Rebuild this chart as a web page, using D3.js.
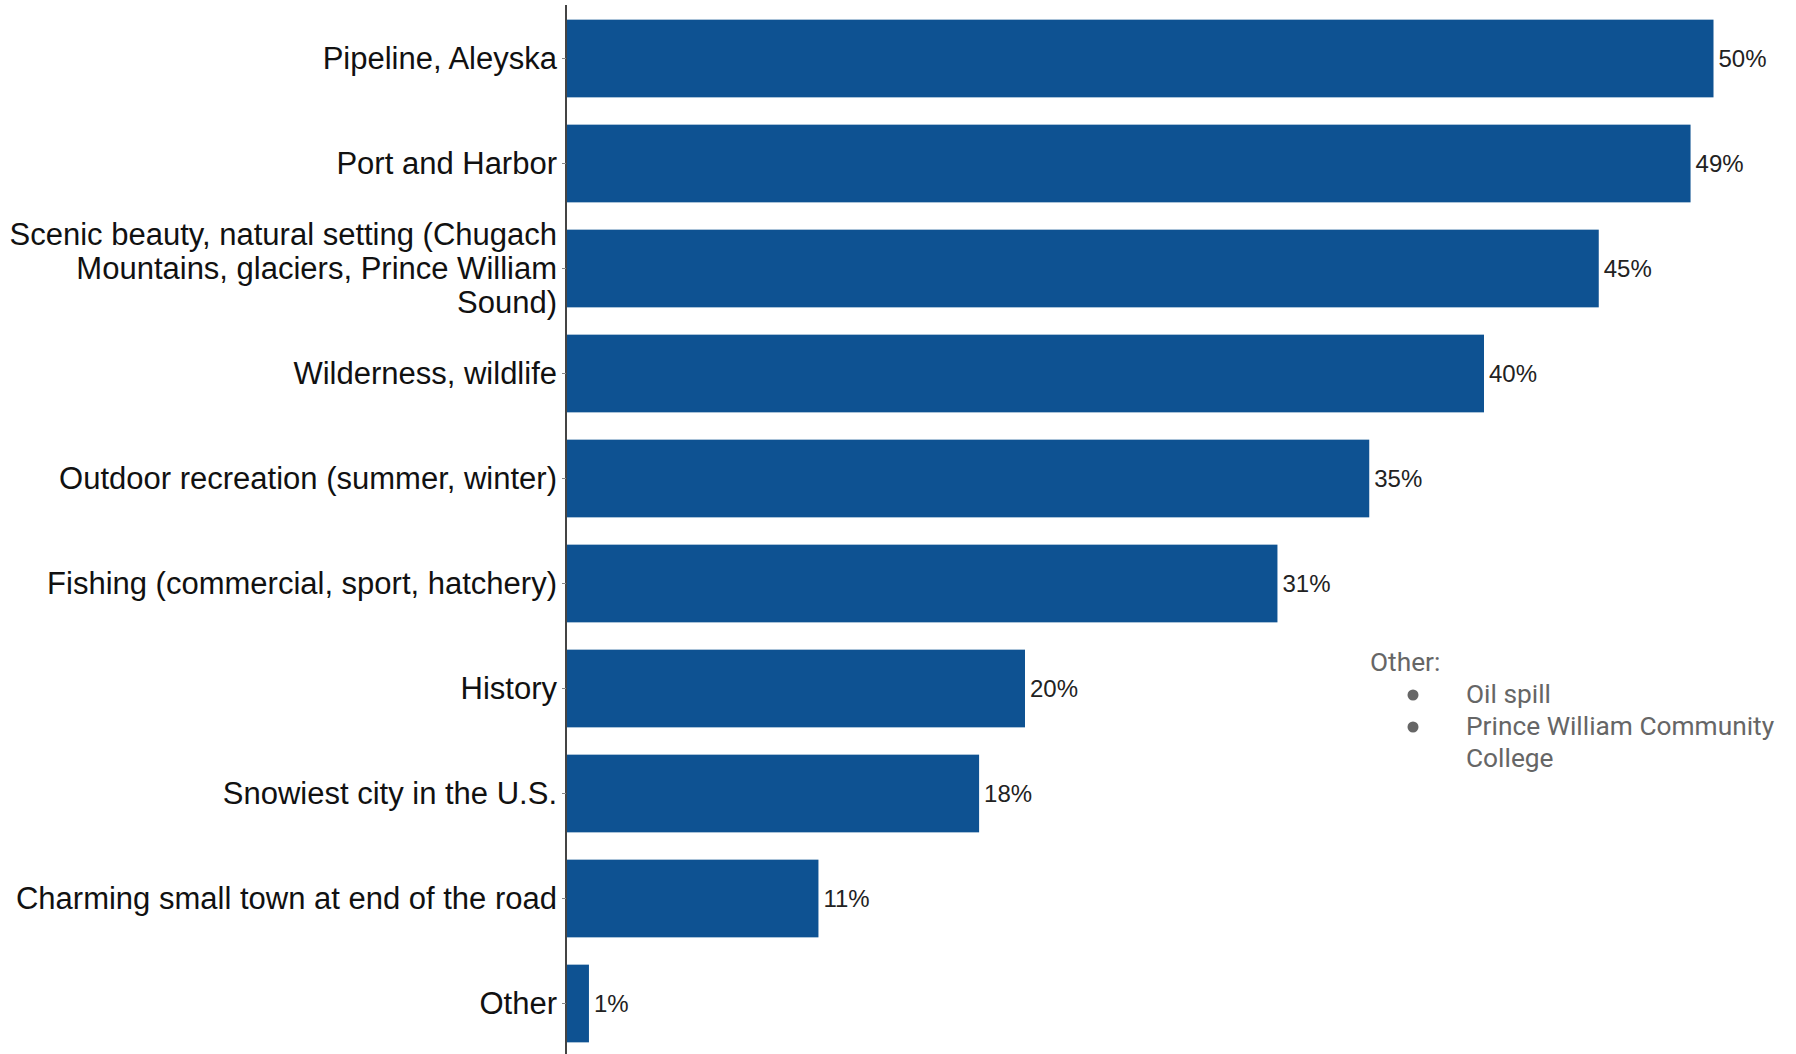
<!DOCTYPE html>
<html>
<head>
<meta charset="utf-8">
<script src="https://cdn.jsdelivr.net/npm/d3@7"></script>
<style>
html,body{margin:0;padding:0;background:#fff;}
svg{display:block;}
</style>
</head>
<body>
<svg id="chart" width="1796" height="1054"></svg>
<script>
const categories = [
  "Pipeline, Aleyska",
  "Port and Harbor",
  "Scenic beauty, natural setting (Chugach Mountains, glaciers, Prince William Sound)",
  "Wilderness, wildlife",
  "Outdoor recreation (summer, winter)",
  "Fishing (commercial, sport, hatchery)",
  "History",
  "Snowiest city in the U.S.",
  "Charming small town at end of the road",
  "Other"
];
const values = [50, 49, 45, 40, 35, 31, 20, 18, 11, 1];
const noteTitle = "Other:";
const noteItems = ["Oil spill", "Prince William Community College"];

const svg = d3.select("#chart");
const x0 = 566, y0 = 6, y1 = 1056;

const x = d3.scaleLinear().domain([0, 50]).range([x0, 1713.5]);
const y = d3.scaleBand().domain(categories).range([y0, y1])
  .paddingInner(0.26).paddingOuter(0.13);

// bars
svg.append("g").selectAll("rect").data(values).join("rect")
  .attr("x", x(0))
  .attr("y", (d, i) => y(categories[i]))
  .attr("width", d => x(d) - x(0))
  .attr("height", y.bandwidth())
  .attr("fill", "#0e5292");

// value labels
svg.append("g").selectAll("text").data(values).join("text")
  .attr("x", d => x(d) + 5)
  .attr("y", (d, i) => y(categories[i]) + y.bandwidth() / 2)
  .attr("dy", "0.35em")
  .attr("font-family", "Liberation Sans, Arial, sans-serif")
  .attr("font-size", 24)
  .attr("fill", "#222")
  .text(d => d + "%");

// y axis
const axis = d3.axisLeft(y).tickSize(4).tickPadding(5).tickFormat(d => d);
const ag = svg.append("g").attr("transform", `translate(${x0},0)`).call(axis);
ag.select(".domain").attr("d", `M0,${y0 - 1}V1054`).attr("stroke", "#444").attr("stroke-width", 2);
ag.selectAll(".tick line").attr("stroke", "#888");
ag.selectAll(".tick text")
  .attr("font-family", "Liberation Sans, Arial, sans-serif")
  .attr("font-size", 31)
  .attr("fill", "#111")
  .each(function(d) {
    const t = d3.select(this);
    const words = d.split(" ");
    const maxW = 555;
    t.text(null);
    let lines = [], line = [];
    const probe = t.append("tspan");
    words.forEach(w => {
      line.push(w);
      probe.text(line.join(" "));
      if (probe.node().getComputedTextLength() > maxW && line.length > 1) {
        line.pop();
        lines.push(line.join(" "));
        line = [w];
      }
    });
    lines.push(line.join(" "));
    probe.remove();
    const lh = 34;
    const start = -(lines.length - 1) / 2 * lh;
    lines.forEach((l, i) => {
      t.append("tspan").attr("x", -9).attr("y", start + i * lh).attr("dy", "0.35em").text(l);
    });
  });

// note
const note = svg.append("g").attr("font-family", "Roboto, sans-serif").attr("font-size", 26.3).attr("fill", "#666");
note.append("text").attr("x", 1370).attr("y", 671).text(noteTitle);
const lineSpacing = 32;
let row = 1;
noteItems.forEach((item, i) => {
  const by = 671 + row * lineSpacing;
  note.append("circle").attr("cx", 1413).attr("cy", by - 8).attr("r", 5.5).attr("fill", "#666");
  const t = note.append("text").attr("x", 1466).attr("y", by);
  const words = item.split(" ");
  let line = [];
  let tsp = t.append("tspan").attr("x", 1466).attr("y", by);
  words.forEach(w => {
    line.push(w);
    tsp.text(line.join(" "));
    if (tsp.node().getComputedTextLength() > 320 && line.length > 1) {
      line.pop();
      tsp.text(line.join(" "));
      line = [w];
      row++;
      tsp = t.append("tspan").attr("x", 1466).attr("y", 671 + row * lineSpacing).text(w);
    }
  });
  row++;
});
</script>
</body>
</html>
